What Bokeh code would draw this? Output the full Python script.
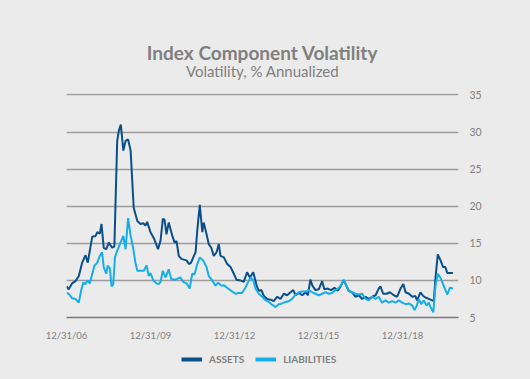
from bokeh.plotting import figure
from bokeh.models import Label, Legend, LegendItem, FixedTicker, Range1d
from bokeh.layouts import column
from bokeh.embed import file_html
from bokeh.resources import INLINE

# ---- data (decimal years, % annualized volatility) ----
assets_x = [2007.00, 2007.08, 2007.20, 2007.32, 2007.44, 2007.56, 2007.68, 2007.76, 2007.92, 2008.04,
            2008.10, 2008.19, 2008.25, 2008.33, 2008.42, 2008.51, 2008.63, 2008.71, 2008.81, 2008.87,
            2008.94, 2009.03, 2009.11, 2009.20, 2009.29, 2009.40, 2009.53, 2009.64, 2009.74, 2009.82,
            2009.88, 2010.00, 2010.12, 2010.27, 2010.36, 2010.44, 2010.50, 2010.57, 2010.65, 2010.78,
            2010.86, 2010.93, 2011.01, 2011.10, 2011.19, 2011.29, 2011.37, 2011.45, 2011.55, 2011.61,
            2011.67, 2011.76, 2011.85, 2011.90, 2011.96, 2012.08, 2012.17, 2012.26, 2012.36, 2012.44,
            2012.50, 2012.62, 2012.74, 2012.86, 2012.95, 2013.07, 2013.21, 2013.33, 2013.45, 2013.55,
            2013.67, 2013.79, 2013.87, 2013.96, 2014.05, 2014.17, 2014.29, 2014.40, 2014.53, 2014.64,
            2014.76, 2014.88, 2015.00, 2015.10, 2015.18, 2015.30, 2015.42, 2015.54, 2015.62, 2015.71,
            2015.78, 2015.89, 2016.01, 2016.13, 2016.21, 2016.33, 2016.45, 2016.57, 2016.69, 2016.79,
            2016.90, 2017.08, 2017.20, 2017.32, 2017.44, 2017.56, 2017.68, 2017.79, 2017.92, 2018.04,
            2018.15, 2018.21, 2018.31, 2018.43, 2018.55, 2018.69, 2018.81, 2018.93, 2019.03, 2019.11,
            2019.23, 2019.35, 2019.46, 2019.52, 2019.64, 2019.74, 2019.82, 2019.94, 2020.06, 2020.12,
            2020.18, 2020.26, 2020.36, 2020.45, 2020.53, 2020.60, 2020.69, 2020.80]
assets_y = [9.2, 8.8, 9.6, 9.9, 10.6, 12.4, 13.4, 12.4, 15.9, 16.0,
            16.5, 16.3, 17.6, 14.4, 14.2, 15.1, 14.4, 14.6, 28.8, 30.2,
            31.0, 27.5, 28.8, 29.0, 27.5, 19.8, 18.0, 17.6, 17.7, 17.4,
            17.9, 16.5, 15.7, 14.2, 15.4, 18.3, 18.2, 16.2, 17.8, 16.0,
            15.1, 15.3, 13.3, 12.9, 12.8, 12.7, 12.2, 12.4, 13.3, 13.8,
            16.7, 20.2, 16.5, 17.8, 16.9, 14.9, 14.4, 13.3, 13.8, 14.9,
            13.3, 13.1, 12.2, 11.8, 11.1, 10.1, 10.0, 9.8, 11.1, 10.4,
            11.1, 9.3, 8.6, 8.7, 7.9, 7.5, 7.4, 7.2, 7.8, 7.5,
            8.2, 8.0, 8.4, 8.7, 8.0, 8.3, 8.0, 8.4, 8.0, 10.1,
            9.3, 8.7, 8.8, 9.9, 8.8, 8.9, 8.7, 9.0, 8.6, 9.2,
            10.0, 8.6, 8.4, 7.8, 8.0, 7.5, 7.8, 7.5, 7.8, 8.0,
            8.9, 9.2, 8.2, 8.2, 8.4, 8.0, 7.8, 8.9, 9.5, 8.4,
            8.2, 7.8, 7.9, 7.3, 8.4, 7.9, 7.7, 7.5, 7.3, 7.3,
            10.4, 13.5, 12.7, 11.8, 11.8, 11.0, 11.0, 11.0]

liab_x = [2007.00, 2007.08, 2007.20, 2007.32, 2007.44, 2007.52, 2007.60, 2007.68, 2007.74, 2007.83,
          2007.92, 2008.00, 2008.10, 2008.19, 2008.27, 2008.33, 2008.42, 2008.47, 2008.55, 2008.61,
          2008.67, 2008.73, 2008.81, 2008.93, 2009.03, 2009.11, 2009.20, 2009.29, 2009.38, 2009.46,
          2009.53, 2009.64, 2009.76, 2009.86, 2009.94, 2010.00, 2010.10, 2010.21, 2010.29, 2010.36,
          2010.44, 2010.54, 2010.65, 2010.74, 2010.89, 2011.07, 2011.17, 2011.29, 2011.40, 2011.49,
          2011.57, 2011.67, 2011.76, 2011.88, 2012.00, 2012.08, 2012.20, 2012.32, 2012.42, 2012.52,
          2012.64, 2012.74, 2012.88, 2013.04, 2013.15, 2013.27, 2013.39, 2013.45, 2013.57, 2013.67,
          2013.75, 2013.87, 2013.99, 2014.11, 2014.23, 2014.35, 2014.46, 2014.58, 2014.70, 2014.82,
          2014.94, 2015.06, 2015.18, 2015.30, 2015.42, 2015.54, 2015.65, 2015.78, 2015.89, 2016.01,
          2016.13, 2016.25, 2016.37, 2016.49, 2016.61, 2016.73, 2016.79, 2016.90, 2017.00, 2017.08,
          2017.20, 2017.32, 2017.44, 2017.56, 2017.68, 2017.79, 2017.92, 2018.04, 2018.15, 2018.27,
          2018.39, 2018.51, 2018.63, 2018.75, 2018.87, 2018.99, 2019.11, 2019.23, 2019.35, 2019.43,
          2019.51, 2019.58, 2019.67, 2019.76, 2019.86, 2019.94, 2020.00, 2020.10, 2020.18, 2020.26,
          2020.36, 2020.47, 2020.60, 2020.69, 2020.80]
liab_y = [8.3, 8.2, 7.6, 7.5, 7.0, 8.6, 9.7, 9.5, 10.0, 9.6,
          10.9, 12.0, 12.4, 13.3, 13.8, 11.8, 10.9, 12.0, 11.6, 9.2,
          9.5, 13.1, 14.0, 15.1, 16.0, 14.2, 18.4, 16.0, 14.4, 12.4,
          11.3, 11.3, 11.3, 12.0, 10.6, 11.0, 10.0, 9.6, 9.5, 9.8,
          11.3, 10.4, 11.5, 10.2, 10.1, 10.4, 9.8, 9.6, 8.9, 10.9,
          10.8, 12.2, 13.1, 12.7, 11.8, 10.6, 10.0, 9.3, 9.7, 9.3,
          9.3, 9.0, 8.6, 8.2, 8.3, 8.3, 9.0, 9.5, 10.4, 10.0,
          8.9, 8.2, 7.8, 7.3, 7.1, 6.7, 6.4, 6.8, 6.9, 7.1,
          7.2, 7.5, 8.1, 8.4, 8.5, 8.5, 8.7, 8.4, 8.2, 8.0,
          8.2, 8.4, 8.2, 8.3, 8.7, 9.0, 9.3, 10.1, 9.3, 8.6,
          8.4, 8.2, 8.1, 8.2, 7.5, 7.3, 7.8, 7.5, 7.8, 7.0,
          7.3, 7.0, 7.2, 7.0, 7.3, 7.0, 6.8, 6.9, 6.6, 6.0,
          6.6, 7.5, 6.8, 7.3, 6.6, 7.0, 6.4, 5.7, 9.3, 10.9,
          10.3, 9.3, 8.1, 9.0, 8.9]

x_ticks = [2007, 2010, 2013, 2016, 2019]
x_tick_labels = ["12/31/06", "12/31/09", "12/31/12", "12/31/15", "12/31/18"]
y_ticks = [5, 10, 15, 20, 25, 30, 35]

title_text = "Index Component Volatility"
subtitle_text = "Volatility, % Annualized"
series_names = ["ASSETS", "LIABILITIES"]

# ---- style ----
BG = "#ebebeb"
DARK = "#0b4f8a"
LIGHT = "#16aee8"
TXT = "#7f7f7f"
FONT = "Lato"
W = 530


def strip(h):
    f = figure(width=W, height=h, output_backend="svg", toolbar_location=None,
               x_range=Range1d(0, 1), y_range=Range1d(0, h),
               x_axis_location=None, y_axis_location=None,
               min_border_left=66, min_border_right=72, min_border_top=0, min_border_bottom=0)
    f.background_fill_color = BG
    f.border_fill_color = BG
    f.outline_line_color = None
    f.grid.visible = False
    return f


# ---- header (title + subtitle) ----
hd = strip(90)
hd.add_layout(Label(x=0.5, y=38.3, text=title_text, text_align="center", text_baseline="middle",
                    text_font=FONT, text_font_style="bold", text_font_size="19px", text_color=TXT))
hd.add_layout(Label(x=0.5, y=19.3, text=subtitle_text, text_align="center", text_baseline="middle",
                    text_font=FONT, text_font_size="15px", text_color=TXT))

# ---- main chart ----
p = figure(width=W, height=259, output_backend="svg", toolbar_location=None,
           x_range=Range1d(2007.0, 2021.0), y_range=Range1d(5.0, 35.2),
           y_axis_location="right", min_border_left=66, min_border_right=72,
           min_border_top=3, min_border_bottom=32)
p.background_fill_color = BG
p.border_fill_color = BG
p.outline_line_color = None

p.xgrid.visible = False
p.ygrid.ticker = FixedTicker(ticks=y_ticks)
p.ygrid.grid_line_color = "#9c9c9c"
p.ygrid.grid_line_width = 1.3

xa = p.xaxis[0]
xa.ticker = FixedTicker(ticks=x_ticks)
xa.major_label_overrides = {t: l for t, l in zip(x_ticks, x_tick_labels)}
xa.axis_line_color = "#7a7a7a"
xa.axis_line_width = 1.5
xa.major_tick_line_color = None
xa.minor_tick_line_color = None
xa.major_tick_in = 0
xa.major_tick_out = 0
xa.major_label_text_font = FONT
xa.major_label_text_font_size = "9.5px"
xa.major_label_text_color = TXT
xa.major_label_standoff = 12

ya = p.yaxis[0]
ya.ticker = FixedTicker(ticks=y_ticks)
ya.axis_line_color = None
ya.major_tick_line_color = None
ya.minor_tick_line_color = None
ya.major_tick_in = 0
ya.major_tick_out = 0
ya.major_label_text_font = FONT
ya.major_label_text_font_size = "10.5px"
ya.major_label_text_color = TXT
ya.major_label_standoff = 11

p.line(assets_x, assets_y, line_color=DARK, line_width=2)
p.line(liab_x, liab_y, line_color=LIGHT, line_width=2)

# ---- legend strip ----
lg = strip(30)
nan = float("nan")
leg_a = lg.line([nan], [nan], line_color=DARK, line_width=4)
leg_l = lg.line([nan], [nan], line_color=LIGHT, line_width=4)

legend = Legend(items=[LegendItem(label=series_names[0], renderers=[leg_a]),
                       LegendItem(label=series_names[1], renderers=[leg_l])],
                orientation="horizontal", location=(113, 12))
legend.label_text_font = FONT
legend.label_text_font_size = "10px"
legend.label_text_font_style = "bold"
legend.label_text_color = TXT
legend.glyph_width = 21
legend.glyph_height = 12
legend.label_standoff = 7
legend.label_height = 12
legend.spacing = 11
legend.padding = 2
legend.margin = 0
legend.background_fill_alpha = 0
legend.border_line_alpha = 0
lg.add_layout(legend, "center")

layout = column(hd, p, lg, spacing=0)
layout.background = BG

html = file_html(layout, INLINE)
html = html.replace("<body>", '<body style="background-color:%s;">' % BG, 1)
open("out.html", "w").write(html)
